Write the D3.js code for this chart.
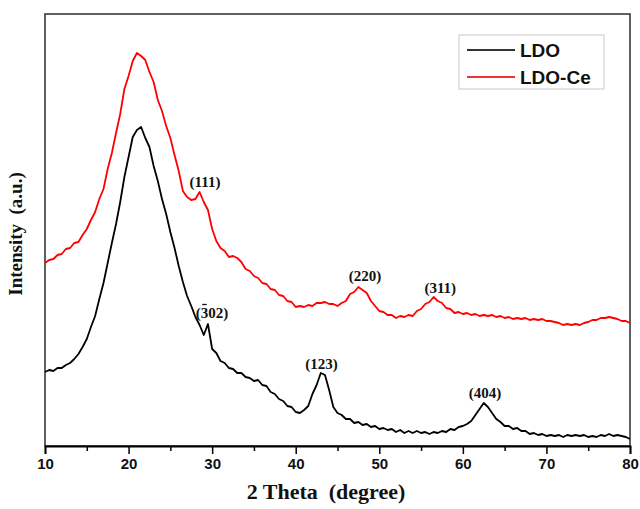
<!DOCTYPE html>
<html>
<head>
<meta charset="utf-8">
<script src="https://cdn.jsdelivr.net/npm/d3@7"></script>
<style>
  html, body { margin: 0; padding: 0; background: #fff; }
  svg { display: block; }
</style>
</head>
<body>
<svg id="chart" width="640" height="509"></svg>
<script>
// XRD patterns of LDO and LDO-Ce, 2θ sampled every 0.5°
const twoTheta = [
  10,10.5,11,11.5,12,12.5,13,13.5,14,14.5,15,15.5,16,16.5,17,17.5,18,18.5,19,19.5,
  20,20.5,21,21.5,22,22.5,23,23.5,24,24.5,25,25.5,26,26.5,27,27.5,28,28.5,29,29.5,
  30,30.5,31,31.5,32,32.5,33,33.5,34,34.5,35,35.5,36,36.5,37,37.5,38,38.5,39,39.5,
  40,40.5,41,41.5,42,42.5,43,43.5,44,44.5,45,45.5,46,46.5,47,47.5,48,48.5,49,49.5,
  50,50.5,51,51.5,52,52.5,53,53.5,54,54.5,55,55.5,56,56.5,57,57.5,58,58.5,59,59.5,
  60,60.5,61,61.5,62,62.5,63,63.5,64,64.5,65,65.5,66,66.5,67,67.5,68,68.5,69,69.5,
  70,70.5,71,71.5,72,72.5,73,73.5,74,74.5,75,75.5,76,76.5,77,77.5,78,78.5,79,79.5,80
];

const ldo = [
  74,76,75,78,78,81,83,87,92,99,107,119,130,147,163,183,203,222,244,269,
  289,309,316,319,308,299,280,265,247,232,214,198,180,164,150,140,129,121,111,122,
  97,93,85,83,78,77,73,73,69,68,65,66,61,60,54,52,47,45,40,39,
  34,33,36,40,52,61,73,71,56,39,33,31,27,27,23,24,21,22,19,20,
  17,18,16,17,14,16,13,15,13,15,13,14,12,14,13,15,14,17,16,19,
  20,22,25,31,37,43,39,33,27,24,20,20,17,18,15,15,12,13,11,12,
  10,11,10,11,9,11,10,11,10,11,9,10,9,11,10,12,10,11,10,9,7
];

const ldoCe = [
  183,186,187,191,192,197,198,203,204,211,217,226,234,247,257,277,293,313,332,357,
  370,385,393,390,386,374,364,346,335,320,308,291,275,255,249,246,247,254,244,236,
  217,205,198,195,189,190,188,184,177,175,170,168,163,162,157,156,151,150,145,144,
  139,140,139,141,140,143,143,144,142,142,140,143,145,152,154,159,156,153,145,140,
  135,134,131,131,128,130,129,131,130,135,137,142,144,149,145,143,138,137,133,134,
  132,133,131,132,130,131,130,131,129,130,128,129,127,128,127,128,126,127,126,127,
  125,125,124,123,121,122,121,122,121,123,124,126,126,128,128,129,128,127,125,125,123
];

const seriesNames = ["LDO", "LDO-Ce"];
const seriesColors = ["#000000", "#ff0000"];
const legendColors = ["#333333", "#ee3333"];

// Reflection indices: [label, 2θ, intensity at label baseline, overbar char index]
const peakLabels = [
  ["(111)", 29.15, 259, -1],
  ["(302)", 29.98, 128, 1],
  ["(220)", 48.3, 165, -1],
  ["(311)", 57.3, 153, -1],
  ["(123)", 43.1, 77, -1],
  ["(404)", 62.65, 48, -1]
];

const xTicks = [10, 20, 30, 40, 50, 60, 70, 80];
const xMinorTicks = [15, 25, 35, 45, 55, 65, 75];

const svg = d3.select("#chart");
const margin = { left: 45, right: 10, top: 14, bottom: 63 };
const W = 640, H = 509;
const plotL = margin.left, plotR = W - margin.right;
const plotT = margin.top, plotB = H - margin.bottom;

const x = d3.scaleLinear().domain([10, 80]).range([plotL, plotR]);
const y = d3.scaleLinear().domain([0, 432]).range([plotB, plotT]);

// frame
svg.append("rect")
  .attr("x", plotL).attr("y", plotT)
  .attr("width", plotR - plotL).attr("height", plotB - plotT)
  .attr("fill", "none").attr("stroke", "#3a3a3a").attr("stroke-width", 1.6);

// curves
const line = d3.line()
  .x((d, i) => x(twoTheta[i]))
  .y(d => y(d));

[ldo, ldoCe].forEach((vals, k) => {
  svg.append("path")
    .datum(vals)
    .attr("d", line)
    .attr("fill", "none")
    .attr("stroke", seriesColors[k])
    .attr("stroke-width", 1.8)
    .attr("stroke-linejoin", "round");
});

// bottom axis
const xAxis = d3.axisBottom(x).tickValues(xTicks).tickSize(8).tickPadding(4).tickFormat(d3.format("d"));
const gx = svg.append("g").attr("transform", `translate(0,${plotB})`).call(xAxis);
gx.select(".domain").attr("stroke", "#000").attr("stroke-width", 1.8);
gx.selectAll(".tick line").attr("stroke", "#000").attr("stroke-width", 1.5);
gx.selectAll(".tick text")
  .attr("font-family", "'Liberation Sans', Arial, sans-serif")
  .attr("font-weight", "bold").attr("font-size", 15).attr("fill", "#111");

const xMinor = d3.axisBottom(x).tickValues(xMinorTicks).tickSize(5).tickFormat("");
const gm = svg.append("g").attr("transform", `translate(0,${plotB})`).call(xMinor);
gm.select(".domain").remove();
gm.selectAll(".tick line").attr("stroke", "#000").attr("stroke-width", 1.5);

// axis titles
svg.append("text")
  .attr("x", 326).attr("y", 499)
  .attr("text-anchor", "middle")
  .attr("font-family", "'Liberation Serif', 'Times New Roman', serif")
  .attr("font-weight", "bold").attr("font-size", 22).attr("fill", "#111")
  .attr("xml:space", "preserve")
  .text("2 Theta  (degree)");

svg.append("text")
  .attr("transform", "translate(22,234) rotate(-90)")
  .attr("text-anchor", "middle")
  .attr("font-family", "'Liberation Serif', 'Times New Roman', serif")
  .attr("font-weight", "bold").attr("font-size", 19).attr("fill", "#111")
  .attr("xml:space", "preserve")
  .text("Intensity  (a.u.)");

// peak labels
peakLabels.forEach(([txt, tt, inten, barIdx]) => {
  const t = svg.append("text")
    .attr("x", x(tt)).attr("y", y(inten))
    .attr("text-anchor", "middle")
    .attr("font-family", "'Liberation Serif', 'Times New Roman', serif")
    .attr("font-weight", "bold").attr("font-size", 15).attr("fill", "#111")
    .text(txt);
  if (barIdx >= 0) {
    const node = t.node();
    const s = node.getStartPositionOfChar(barIdx);
    const e = node.getEndPositionOfChar(barIdx);
    svg.append("line")
      .attr("x1", s.x + 1.5).attr("x2", e.x - 1.5)
      .attr("y1", s.y - 13.5).attr("y2", s.y - 13.5)
      .attr("stroke", "#111").attr("stroke-width", 1.3);
  }
});

// legend
const lg = svg.append("g");
lg.append("rect")
  .attr("x", 459).attr("y", 35).attr("width", 145).attr("height", 54)
  .attr("fill", "#fff").attr("stroke", "#c8c8c8").attr("stroke-width", 1);
seriesNames.forEach((name, k) => {
  const cy = 50 + k * 27;
  lg.append("line")
    .attr("x1", 467).attr("x2", 515).attr("y1", cy).attr("y2", cy)
    .attr("stroke", legendColors[k]).attr("stroke-width", 1.8);
  lg.append("text")
    .attr("x", 520).attr("y", cy + 6.5)
    .attr("font-family", "'Liberation Sans', Arial, sans-serif")
    .attr("font-weight", "bold").attr("font-size", 19).attr("fill", "#111")
    .text(name);
});
</script>
</body>
</html>
